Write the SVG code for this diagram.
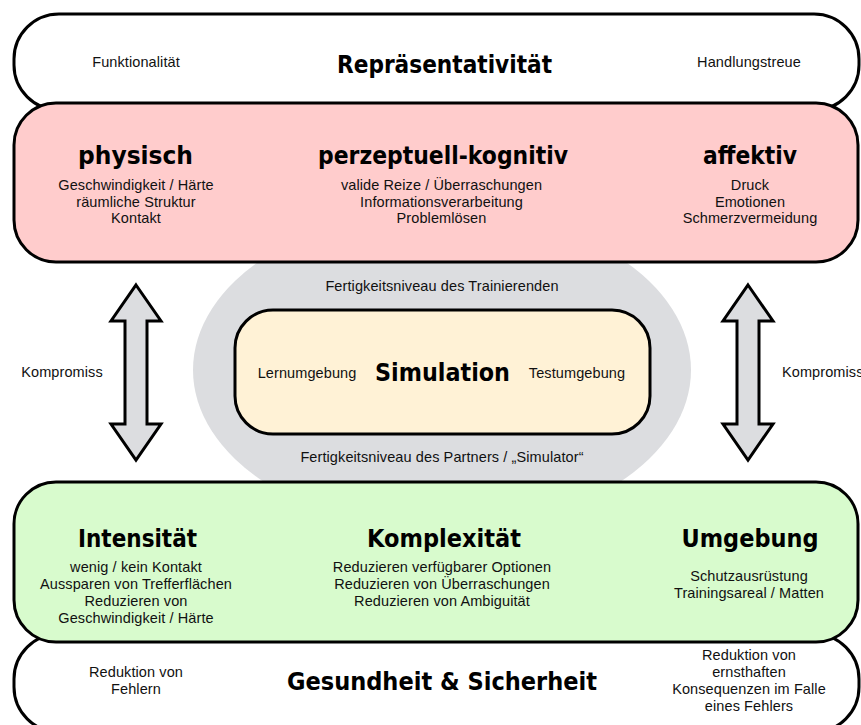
<svg xmlns="http://www.w3.org/2000/svg" width="861" height="725" viewBox="0 0 861 725">
<style>
.box{stroke:#000;stroke-width:3}
.w{fill:#fff}
.pink{fill:#ffcccc}
.green{fill:#d8fbcd}
.cream{fill:#fff2d6}
.t{font-family:"Liberation Sans",Arial,sans-serif;font-size:14.5px;letter-spacing:0.1px;fill:#111;text-anchor:middle}
.h{font-family:"DejaVu Sans",Verdana,sans-serif;font-weight:bold;font-size:25px;fill:#000;text-anchor:middle}
.arrow{fill:#dcdde0;stroke:#000;stroke-width:3;stroke-linejoin:miter}
</style>
<rect width="861" height="725" fill="#fff"/>
<g id="representativeness">
<rect class="box w" x="14" y="14" width="845" height="96" rx="45" ry="45"/>
<text class="t" x="136" y="67">Funktionalität</text>
<text class="h" x="444.5" y="73" textLength="215" lengthAdjust="spacingAndGlyphs">Repräsentativität</text>
<text class="t" x="749" y="67">Handlungstreue</text>
</g>
<g id="skill-ellipse">
<ellipse cx="442" cy="370" rx="249" ry="160" fill="#dcdde0"/>
<text class="t" x="442" y="291">Fertigkeitsniveau des Trainierenden</text>
<text class="t" x="442" y="462">Fertigkeitsniveau des Partners / „Simulator“</text>
</g>
<g id="fidelity">
<rect class="box pink" x="14" y="103" width="844" height="159" rx="42" ry="42"/>
<text class="h" x="135.5" y="164" textLength="115" lengthAdjust="spacingAndGlyphs">physisch</text>
<text class="t" x="136" y="190">Geschwindigkeit / Härte</text>
<text class="t" x="136" y="206.5">räumliche Struktur</text>
<text class="t" x="136" y="223">Kontakt</text>
<text class="h" x="443" y="164" textLength="250" lengthAdjust="spacingAndGlyphs">perzeptuell-kognitiv</text>
<text class="t" x="441.5" y="190">valide Reize / Überraschungen</text>
<text class="t" x="441.5" y="206.5">Informationsverarbeitung</text>
<text class="t" x="441.5" y="223">Problemlösen</text>
<text class="h" x="750" y="164" textLength="94" lengthAdjust="spacingAndGlyphs">affektiv</text>
<text class="t" x="750" y="190">Druck</text>
<text class="t" x="750" y="206.5">Emotionen</text>
<text class="t" x="750" y="223">Schmerzvermeidung</text>
</g>
<g id="safety">
<rect class="box w" x="14" y="634" width="845" height="98" rx="45" ry="45"/>
<text class="t" x="136" y="677">Reduktion von</text>
<text class="t" x="136" y="694">Fehlern</text>
<text class="h" x="442" y="690" textLength="310" lengthAdjust="spacingAndGlyphs">Gesundheit &amp; Sicherheit</text>
<text class="t" x="749" y="660">Reduktion von</text>
<text class="t" x="749" y="677">ernsthaften</text>
<text class="t" x="749" y="694">Konsequenzen im Falle</text>
<text class="t" x="749" y="711">eines Fehlers</text>
</g>
<g id="reduction">
<rect class="box green" x="14" y="482" width="844" height="160" rx="42" ry="42"/>
<text class="h" x="137.5" y="547" textLength="119" lengthAdjust="spacingAndGlyphs">Intensität</text>
<text class="t" x="136" y="572">wenig / kein Kontakt</text>
<text class="t" x="136" y="589">Aussparen von Trefferflächen</text>
<text class="t" x="136" y="606">Reduzieren von</text>
<text class="t" x="136" y="623">Geschwindigkeit / Härte</text>
<text class="h" x="444" y="547" textLength="154" lengthAdjust="spacingAndGlyphs">Komplexität</text>
<text class="t" x="442" y="572">Reduzieren verfügbarer Optionen</text>
<text class="t" x="442" y="589">Reduzieren von Überraschungen</text>
<text class="t" x="442" y="606">Reduzieren von Ambiguität</text>
<text class="h" x="750" y="547" textLength="137" lengthAdjust="spacingAndGlyphs">Umgebung</text>
<text class="t" x="749" y="581">Schutzausrüstung</text>
<text class="t" x="749" y="598">Trainingsareal / Matten</text>
</g>
<g id="simulation">
<rect class="box cream" x="235" y="310" width="415" height="124" rx="38" ry="38"/>
<text class="t" x="307" y="378">Lernumgebung</text>
<text class="h" x="442.5" y="381" textLength="135" lengthAdjust="spacingAndGlyphs">Simulation</text>
<text class="t" x="577" y="378">Testumgebung</text>
</g>
<g id="connectors">
<polygon class="arrow" points="136,285 161,321 147,321 147,424 161,424 136,460 111,424 125,424 125,321 111,321"/>
<polygon class="arrow" points="748,285 773,321 759,321 759,424 773,424 748,460 723,424 737,424 737,321 723,321"/>
</g>
<g id="labels">
<text class="t" x="62" y="377">Kompromiss</text>
<text class="t" x="782" y="377" style="text-anchor:start">Kompromiss</text>
</g>
</svg>
